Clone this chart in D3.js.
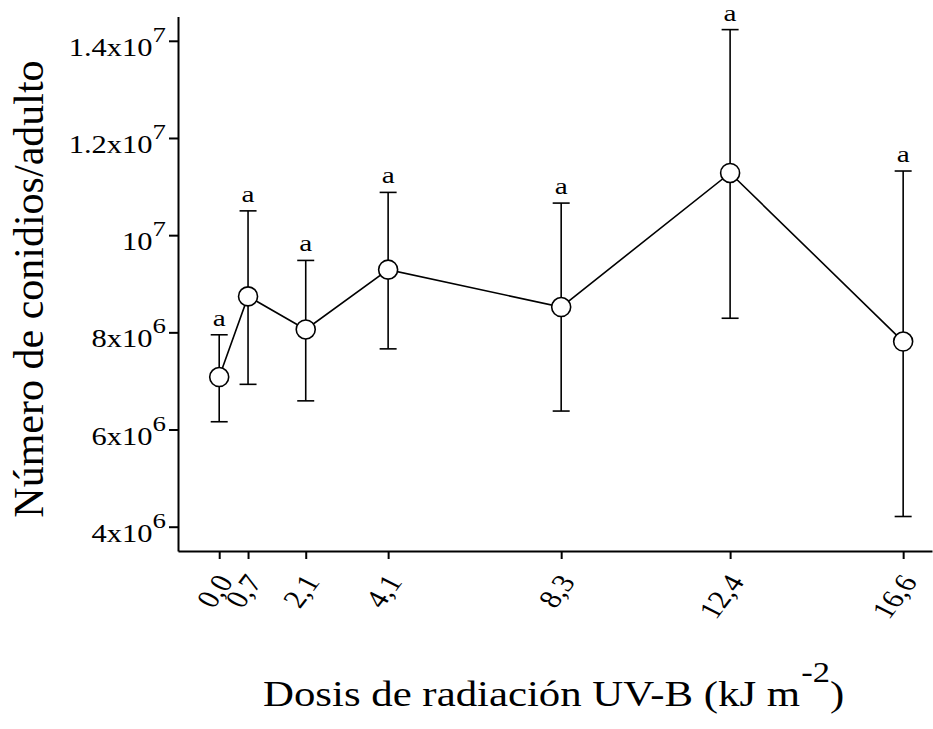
<!DOCTYPE html>
<html><head><meta charset="utf-8">
<script src="https://cdn.jsdelivr.net/npm/d3@7"></script>
<style>
html,body{margin:0;padding:0;background:#fff;}
text{font-family:"Liberation Serif","Times New Roman",serif;fill:#000;}
</style></head>
<body>
<svg id="chart" width="933" height="729"></svg>
<script>
// data
const doses = [0.0, 0.7, 2.1, 4.1, 8.3, 12.4, 16.6];
const doseLabels = ["0,0", "0,7", "2,1", "4,1", "8,3", "12,4", "16,6"];
const means = [7.08e6, 8.74e6, 8.06e6, 9.29e6, 8.52e6, 1.128e7, 7.81e6];
const upper = [7.95e6, 1.05e7, 9.48e6, 1.088e7, 1.066e7, 1.423e7, 1.132e7];
const lower = [6.16e6, 6.93e6, 6.59e6, 7.66e6, 6.38e6, 8.29e6, 4.21e6];
const letters = ["a", "a", "a", "a", "a", "a", "a"];
const yTicks = [4e6, 6e6, 8e6, 1e7, 1.2e7, 1.4e7];
const yTickMant = ["4x10", "6x10", "8x10", "10", "1.2x10", "1.4x10"];
const yTickExp = ["6", "6", "6", "7", "7", "7"];

const svg = d3.select("#chart");
const x = d3.scaleLinear().domain([-1, 17.3]).range([178, 932]);
const y = d3.scaleLinear().domain([3.5e6, 1.45e7]).range([551, 16.5]);
const SX = 1.22; // horizontal stretch of the text

// axes
const xAxis = svg.append("g").attr("transform", "translate(0,551)")
  .call(d3.axisBottom(x).tickValues(doses).tickSize(8).tickSizeOuter(0).tickFormat(""));
const yAxis = svg.append("g").attr("transform", "translate(178,0)")
  .call(d3.axisLeft(y).tickValues(yTicks).tickSize(9).tickSizeOuter(0).tickFormat(""));
[xAxis, yAxis].forEach(a => {
  a.selectAll("path,line").attr("stroke", "#000").attr("stroke-width", 2);
});

// y tick labels
const ytl = svg.append("g");
yTicks.forEach((v, i) => {
  const t = ytl.append("text")
    .attr("transform", `translate(166,${y(v) + 15}) scale(${SX},1)`)
    .attr("text-anchor", "end").attr("font-size", 25);
  t.append("tspan").text(yTickMant[i]);
  t.append("tspan").attr("dy", -14).attr("font-size", 22).text(yTickExp[i]);
});

// x tick labels
const xtl = svg.append("g");
doses.forEach((d, i) => {
  xtl.append("text")
    .attr("transform", `translate(${x(d) + 15},582) scale(${SX},1) rotate(-58)`)
    .attr("text-anchor", "end").attr("font-size", 26)
    .text(doseLabels[i]);
});

// error bars
const eb = svg.append("g").attr("stroke", "#000").attr("stroke-width", 1.6);
doses.forEach((d, i) => {
  eb.append("line").attr("x1", x(d)).attr("x2", x(d)).attr("y1", y(upper[i])).attr("y2", y(lower[i]));
  eb.append("line").attr("x1", x(d) - 8.5).attr("x2", x(d) + 8.5).attr("y1", y(upper[i])).attr("y2", y(upper[i]));
  eb.append("line").attr("x1", x(d) - 8.5).attr("x2", x(d) + 8.5).attr("y1", y(lower[i])).attr("y2", y(lower[i]));
});

// line
const line = d3.line().x((d, i) => x(doses[i])).y(d => y(d));
svg.append("path").datum(means).attr("d", line)
  .attr("fill", "none").attr("stroke", "#000").attr("stroke-width", 1.6);

// points
svg.append("g").selectAll("circle").data(means).join("circle")
  .attr("cx", (d, i) => x(doses[i])).attr("cy", d => y(d)).attr("r", 9.5)
  .attr("fill", "#fff").attr("stroke", "#000").attr("stroke-width", 1.6);

// letters
svg.append("g").selectAll("text").data(letters).join("text")
  .attr("transform", (d, i) => `translate(${x(doses[i])},${y(upper[i]) - 9}) scale(${SX},1)`)
  .attr("text-anchor", "middle").attr("font-size", 24).text(d => d);

// axis titles
const xt = svg.append("text")
  .attr("transform", `translate(263,706) scale(1.19,1)`)
  .attr("font-size", 36);
xt.append("tspan").text("Dosis de radiación UV-B (kJ m");
xt.append("tspan").attr("dy", -24).attr("dx", 1).attr("font-size", 29).text("-2");
xt.append("tspan").attr("dy", 24).text(")");

svg.append("text")
  .attr("transform", "translate(43,289) rotate(-90)")
  .attr("text-anchor", "middle").attr("font-size", 42)
  .text("Número de conidios/adulto");
</script>
</body></html>
